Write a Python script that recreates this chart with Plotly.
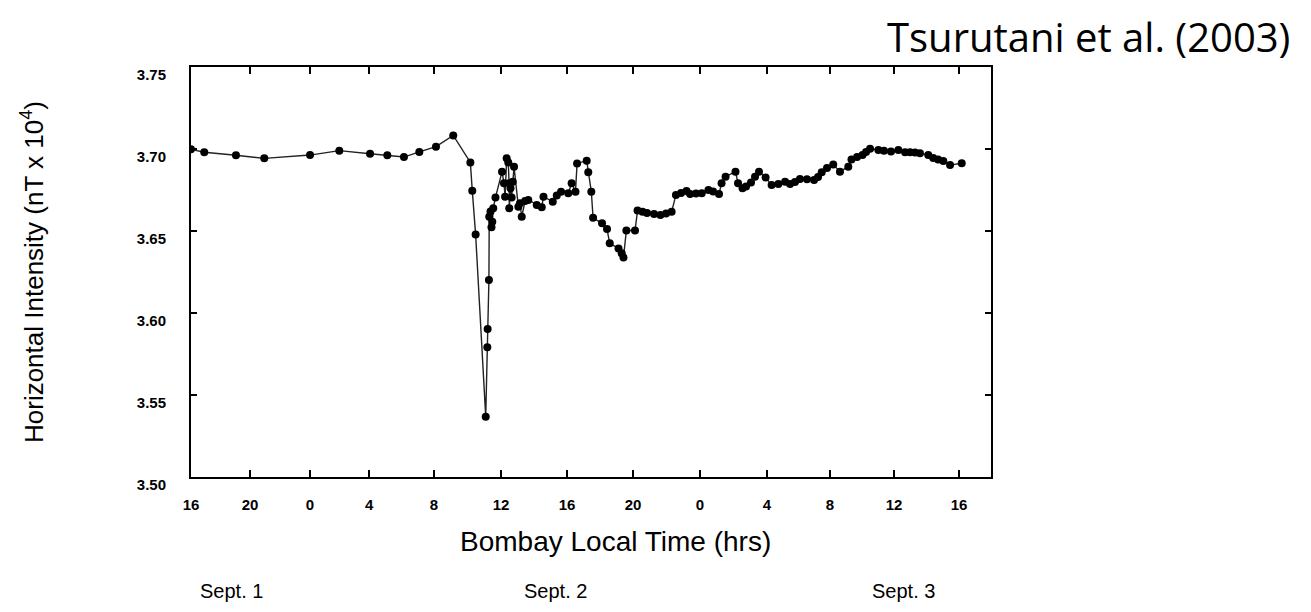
import plotly.graph_objects as go

# Hours since 16:00 LT on Sept. 1 (Bombay local time)
hours = [0.0, 0.83, 2.81, 4.58, 7.44, 9.27, 11.19, 12.27, 13.31, 14.27, 15.31, 16.39,
         17.46, 17.58, 17.79, 18.42, 18.52, 18.54, 18.62,
         18.64, 18.72, 18.78, 18.83, 18.89, 19.03, 19.44, 19.56, 19.63, 19.73, 19.83,
         19.88, 19.89, 19.97, 20.04, 20.11, 20.19, 20.46, 20.56, 20.67, 20.88, 21.08,
         21.61, 21.92, 22.03, 22.61, 22.86, 23.13, 23.58, 23.79, 24.03, 24.13, 24.73,
         24.83, 25.02, 25.13, 25.69, 26.00, 26.17, 26.72, 26.92, 27.03, 27.21, 27.75,
         27.91, 28.22, 28.50, 28.94, 29.34, 29.69, 30.04, 30.31, 30.63, 30.97, 31.19,
         31.56, 31.92, 32.34, 32.63, 33.00, 33.16, 33.41, 34.03, 34.19, 34.47, 34.69,
         35.00, 35.25, 35.50, 35.91, 36.29, 36.71, 37.13, 37.44, 37.75, 38.06, 38.50,
         38.94, 39.19, 39.42, 39.75, 40.14, 40.56, 41.08, 41.28, 41.63, 41.97, 42.19,
         42.44, 42.96, 43.31, 43.75, 44.21, 44.63, 44.94, 45.25, 45.56, 46.08, 46.39,
         46.69, 47.02, 47.44, 48.17]

# Horizontal intensity (nT x 10^4)
intensity = [3.6998, 3.6980, 3.6962, 3.6943, 3.6963, 3.6990, 3.6971, 3.6962, 3.6951, 3.6982,
             3.7014, 3.7083, 3.6918, 3.6746, 3.6478, 3.5368, 3.5791, 3.5902, 3.6201,
             3.6587, 3.6619, 3.6523, 3.6557, 3.6638, 3.6705, 3.6862, 3.6791, 3.6709, 3.6943,
             3.6918, 3.6791, 3.6638, 3.6760, 3.6705, 3.6801, 3.6892, 3.6648, 3.6669, 3.6587,
             3.6683, 3.6689, 3.6659, 3.6645, 3.6709, 3.6679, 3.6716, 3.6740, 3.6730, 3.6791,
             3.6740, 3.6912, 3.6929, 3.6858, 3.6740, 3.6581, 3.6547, 3.6512, 3.6425, 3.6394,
             3.6364, 3.6338, 3.6503, 3.6503, 3.6625, 3.6618, 3.6610, 3.6604, 3.6598, 3.6607,
             3.6618, 3.6720, 3.6732, 3.6744, 3.6726, 3.6729, 3.6730, 3.6750, 3.6741, 3.6726,
             3.6791, 3.6831, 3.6862, 3.6791, 3.6760, 3.6771, 3.6796, 3.6831, 3.6862, 3.6826,
             3.6780, 3.6787, 3.6801, 3.6787, 3.6799, 3.6817, 3.6815, 3.6811, 3.6829, 3.6858,
             3.6884, 3.6905, 3.6862, 3.6892, 3.6936, 3.6951, 3.6963, 3.6982, 3.7001, 3.6994,
             3.6990, 3.6984, 3.6994, 3.6980, 3.6980, 3.6979, 3.6974, 3.6963, 3.6945, 3.6936,
             3.6927, 3.6902, 3.6913]

# Tick positions as drawn in the original (hours), and their labels
tick_hours = [0, 3.69, 7.44, 11.13, 15.19, 19.38, 23.5, 27.63, 31.81, 36.0, 39.94, 43.94, 48.0]
tick_text = ["16", "20", "0", "4", "8", "12", "16", "20", "0", "4", "8", "12", "16"]

y_ticks = [3.50, 3.55, 3.60, 3.65, 3.70, 3.75]

day_labels = ["Sept. 1", "Sept. 2", "Sept. 3"]
day_label_hours = [2.5, 22.8, 44.5]

fig = go.Figure()
fig.add_trace(go.Scatter(
    x=hours, y=intensity, mode="lines+markers",
    line=dict(color="#222222", width=1.4),
    marker=dict(color="black", size=8),
    showlegend=False,
))

tickfont = dict(family="Liberation Sans, Arial, sans-serif", size=15, color="black", weight="bold")

fig.update_xaxes(
    range=[0, 50], tickvals=tick_hours, ticktext=tick_text,
    showline=True, linecolor="black", linewidth=2, mirror="ticks",
    ticks="inside", ticklen=7, tickwidth=2, tickcolor="black",
    showgrid=False, zeroline=False, tickfont=tickfont, ticklabelstandoff=13,
)
fig.update_yaxes(
    range=[3.50, 3.75], tickvals=y_ticks, ticktext=[f"{v:.2f}" for v in y_ticks],
    showline=True, linecolor="black", linewidth=2, mirror="ticks",
    ticks="inside", ticklen=6, tickwidth=2, tickcolor="black",
    showgrid=False, zeroline=False, tickfont=tickfont, ticklabelstandoff=20, ticklabelshift=8,
    title=dict(text="Horizontal Intensity (nT x 10<sup>4</sup>)", standoff=86,
               font=dict(family="Liberation Sans, Arial, sans-serif", size=26, color="black")),
)

# x-axis title (placed slightly right of the plot centre, as in the original)
fig.add_annotation(x=(615 - 191) / 800, xref="paper", y=(477 - 541) / 410, yref="paper",
                   text="Bombay Local Time (hrs)", showarrow=False, xanchor="center", yanchor="middle",
                   font=dict(family="Liberation Sans, Arial, sans-serif", size=28, color="black"))

for lab, h in zip(day_labels, day_label_hours):
    fig.add_annotation(x=h, xref="x", y=(477 - 591) / 410, yref="paper",
                       text=lab, showarrow=False, xanchor="center", yanchor="middle",
                       font=dict(family="Liberation Sans, Arial, sans-serif", size=20, color="black"))

fig.add_annotation(x=(1292 - 191) / 800, xref="paper", y=(477 - 37) / 410, yref="paper",
                   text="Tsurutani et al. (2003)", showarrow=False, xanchor="right", yanchor="middle",
                   font=dict(family="Open Sans, sans-serif", size=40, color="black"))

fig.update_layout(
    width=1311, height=612,
    margin=dict(l=191, r=320, t=67, b=135),
    paper_bgcolor="white", plot_bgcolor="white",
)

fig.write_html("out.html")
